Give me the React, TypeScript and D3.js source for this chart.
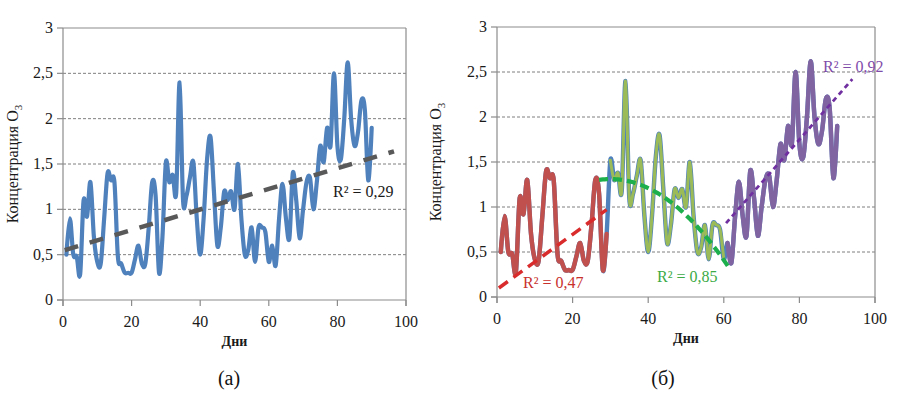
import React from "react";
import * as d3 from "d3";

// ---- data ----
const days: number[] = Array.from({ length: 90 }, (_, i) => i + 1);
const ozone: number[] = [
  0.5, 0.9, 0.5, 0.48, 0.28, 1.1, 0.92, 1.3, 0.7, 0.42,
  0.4, 0.9, 1.4, 1.32, 1.3, 0.48, 0.4, 0.3, 0.3, 0.3,
  0.45, 0.6, 0.4, 0.4, 0.8, 1.3, 1.15, 0.3, 0.7, 1.52,
  1.3, 1.38, 1.18, 2.4, 1.1, 1.15, 1.35, 1.52, 0.9, 0.5,
  0.9, 1.55, 1.8, 1.2, 0.6, 0.8, 1.2, 1.1, 1.2, 1.0,
  1.5, 0.9, 0.5, 0.55, 0.8, 0.42, 0.8, 0.8, 0.75, 0.42,
  0.6, 0.38, 0.9, 1.28, 0.9, 0.68, 1.4, 1.1, 0.68, 1.0,
  1.3, 1.35, 1.0, 1.3, 1.7, 1.52, 1.9, 1.7, 2.5, 1.7,
  1.55, 2.0, 2.62, 2.0, 1.7, 1.85, 2.2, 2.1, 1.32, 1.9,
];
const xTicks: number[] = [0, 20, 40, 60, 80, 100];
const yTicks: number[] = [0, 0.5, 1, 1.5, 2, 2.5, 3];
const yTickLabels: string[] = ["0", "0,5", "1", "1,5", "2", "2,5", "3"];

// segments of panel (б): [first day, last day]
const segRed: number[] = [1, 29];
const segGreen: number[] = [30, 60];
const segPurple: number[] = [61, 90];

// trend lines: [x0, y0, x1, y1]
const trendAll: number[] = [0.5, 0.55, 96.5, 1.64];
const trendRed: number[] = [0.5, 0.1, 29, 0.97];
const trendPurple: number[] = [60.6, 0.82, 94, 2.42];
// quadratic trend: y = c0 - c1 * (x - c2)^2 on [from, to]
const trendGreenCoef: number[] = [1.31, 0.001, 30];
const trendGreenRange: number[] = [27, 61.6];

const r2Labels: string[] = ["R² = 0,29", "R² = 0,47", "R² = 0,85", "R² = 0,92"];

const SERIF = "'Liberation Serif', 'Times New Roman', serif";

type PanelProps = {
  left: number; right: number; top: number; bottom: number;
  children: (x: d3.ScaleLinear<number, number>, y: d3.ScaleLinear<number, number>) => React.ReactNode;
  titleX: number;
};

function Panel({ left, right, top, bottom, children, titleX }: PanelProps) {
  const x = d3.scaleLinear().domain([0, 100]).range([left, right]);
  const y = d3.scaleLinear().domain([0, 3]).range([bottom, top]);
  const axisColor = "#8c8c8c";
  return (
    <g>
      {yTicks.slice(1, -1).map((t) => (
        <line key={"g" + t} x1={left} x2={right} y1={y(t)} y2={y(t)}
          stroke="#7f7f7f" strokeWidth={1} strokeDasharray="3,2" />
      ))}
      <line x1={left} x2={right} y1={top} y2={top} stroke={axisColor} strokeWidth={1.2} />
      <line x1={right} x2={right} y1={top} y2={bottom + 6} stroke={axisColor} strokeWidth={1.2} />
      <line x1={left} x2={left} y1={top} y2={bottom + 6} stroke={axisColor} strokeWidth={1.2} />
      <line x1={left - 6} x2={right} y1={bottom} y2={bottom} stroke={axisColor} strokeWidth={1.2} />
      {yTicks.map((t, i) => (
        <g key={"y" + t}>
          <line x1={left - 6} x2={left} y1={y(t)} y2={y(t)} stroke={axisColor} strokeWidth={1.2} />
          <text x={left - 10} y={y(t) + 5} textAnchor="end" fontFamily={SERIF} fontSize={16} fill="#1a1a1a">
            {yTickLabels[i]}
          </text>
        </g>
      ))}
      {xTicks.map((t) => (
        <g key={"x" + t}>
          <line x1={x(t)} x2={x(t)} y1={bottom} y2={bottom + 6} stroke={axisColor} strokeWidth={1.2} />
          <text x={x(t)} y={bottom + 27} textAnchor="middle" fontFamily={SERIF} fontSize={16} fill="#1a1a1a">
            {t}
          </text>
        </g>
      ))}
      <text x={(left + right) / 2} y={bottom + 46} textAnchor="middle" fontFamily={SERIF}
        fontSize={14} fontWeight="bold" fill="#1a1a1a">Дни</text>
      <text transform={`translate(${titleX},${(top + bottom) / 2}) rotate(-90)`} textAnchor="middle"
        fontFamily={SERIF} fontSize={16} fill="#1a1a1a">
        Концентрация O<tspan fontSize={11} dy={4}>3</tspan>
      </text>
      {children(x, y)}
    </g>
  );
}

function seriesPath(x: d3.ScaleLinear<number, number>, y: d3.ScaleLinear<number, number>, from: number, to: number) {
  const pts: [number, number][] = [];
  days.forEach((d, i) => {
    if (d >= from && d <= to) pts.push([x(d), y(ozone[i])]);
  });
  return d3.line().curve(d3.curveCatmullRom.alpha(0))(pts) || "";
}

function trendPath(x: d3.ScaleLinear<number, number>, y: d3.ScaleLinear<number, number>, t: number[]) {
  return d3.line()([[x(t[0]), y(t[1])], [x(t[2]), y(t[3])]]) || "";
}

export default function App() {
  return (
    <svg width={902} height={404} style={{ position: "absolute", left: 0, top: 0, background: "#fff" }}>
      <rect width={902} height={404} fill="#fff" />
      <Panel left={63} right={406} top={28} bottom={300} titleX={18}>
        {(x, y) => (
          <g>
            <path d={seriesPath(x, y, 1, 90)} fill="none" stroke="#4F81BD" strokeWidth={4.2}
              strokeLinejoin="round" strokeLinecap="round" />
            <path d={trendPath(x, y, trendAll)} fill="none" stroke="#595959" strokeWidth={4.5}
              strokeDasharray="14,12" />
            <text x={333} y={197} fontFamily={SERIF} fontSize={16} fill="#1a1a1a">{r2Labels[0]}</text>
          </g>
        )}
      </Panel>
      <Panel left={497} right={875} top={27} bottom={297} titleX={441}>
        {(x, y) => {
          const gPts: [number, number][] = d3.range(trendGreenRange[0], trendGreenRange[1] + 0.01, 0.5).map((d) => [
            x(d), y(trendGreenCoef[0] - trendGreenCoef[1] * (d - trendGreenCoef[2]) ** 2),
          ]);
          return (
            <g>
              <path d={seriesPath(x, y, 1, 90)} fill="none" stroke="#4F81BD" strokeWidth={4.4}
                strokeLinejoin="round" strokeLinecap="round" />
              <path d={seriesPath(x, y, segRed[0], segRed[1])} fill="none" stroke="#C0504D" strokeWidth={4.4}
                strokeLinejoin="round" strokeLinecap="round" />
              <path d={seriesPath(x, y, segGreen[0], segGreen[1])} fill="none" stroke="#9BBB59" strokeWidth={3}
                strokeLinejoin="round" strokeLinecap="round" />
              <path d={seriesPath(x, y, segPurple[0], segPurple[1])} fill="none" stroke="#8064A2" strokeWidth={4.4}
                strokeLinejoin="round" strokeLinecap="round" />
              <path d={trendPath(x, y, trendRed)} fill="none" stroke="#D92B2B" strokeWidth={3.5}
                strokeDasharray="11,7" />
              <path d={d3.line()(gPts) || ""} fill="none" stroke="#1DAF4B" strokeWidth={4.2}
                strokeDasharray="9,5" />
              <path d={trendPath(x, y, trendPurple)} fill="none" stroke="#7030A0" strokeWidth={2.8}
                strokeDasharray="5,4" />
              <text x={523} y={288} fontFamily={SERIF} fontSize={16} fill="#C8302C">{r2Labels[1]}</text>
              <text x={657} y={282} fontFamily={SERIF} fontSize={16} fill="#3CAA45">{r2Labels[2]}</text>
              <text x={823} y={72} fontFamily={SERIF} fontSize={16} fill="#7F4CAA">{r2Labels[3]}</text>
            </g>
          );
        }}
      </Panel>
      <text x={229} y={385} textAnchor="middle" fontFamily={SERIF} fontSize={20} fill="#111">(а)</text>
      <text x={663} y={385} textAnchor="middle" fontFamily={SERIF} fontSize={20} fill="#111">(б)</text>
    </svg>
  );
}
